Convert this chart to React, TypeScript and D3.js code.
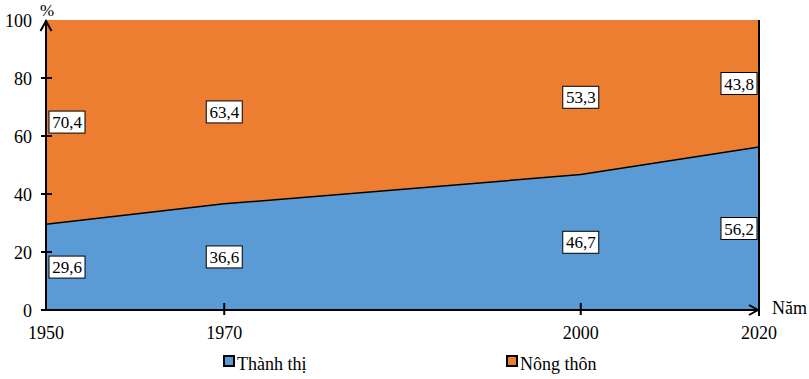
import React from "react";
import * as d3 from "d3";

const years = [1950, 1970, 2000, 2020];
const yearSlots = [0, 1, 3, 4];
const thanhThi = [29.6, 36.6, 46.7, 56.2];
const nongThon = [70.4, 63.4, 53.3, 43.8];
const yTicks = [0, 20, 40, 60, 80, 100];
const seriesNames = ["Thành thị", "Nông thôn"];
const colors = ["#5B9BD5", "#ED7D31"];

const W = 809;
const H = 379;
const left = 46;
const right = 759;
const top = 20;
const bottom = 310;

export default function App() {
  const slot = d3.scaleLinear().domain([0, 4]).range([left, right]);
  const x = (i: number) => slot(yearSlots[i]);
  const y = d3.scaleLinear().domain([0, 100]).range([bottom, top]);
  const idx = years.map((_, i) => i);
  const curve = d3.curveLinear;

  const areaBottom = d3
    .area<number>()
    .x((i) => x(i))
    .y0(y(0))
    .y1((i) => y(thanhThi[i]))
    .curve(curve);
  const areaTop = d3
    .area<number>()
    .x((i) => x(i))
    .y0((i) => y(thanhThi[i]))
    .y1(y(100))
    .curve(curve);
  const boundary = d3
    .line<number>()
    .x((i) => x(i))
    .y((i) => y(thanhThi[i]))
    .curve(curve);

  const fontStyle = { fontFamily: "Liberation Serif, 'Times New Roman', serif" };
  const boxW = 36;
  const boxH = 22;
  const labelX = (i: number) => {
    const cx = x(i);
    return Math.max(left + 3 + boxW / 2, Math.min(right - 2 - boxW / 2, cx));
  };
  const fmt = (v: number) => v.toFixed(1).replace(".", ",");

  const labels: { cx: number; cy: number; text: string }[] = [];
  idx.forEach((i) => {
    labels.push({ cx: labelX(i), cy: y(thanhThi[i] / 2), text: fmt(thanhThi[i]) });
    labels.push({
      cx: labelX(i),
      cy: y(thanhThi[i] + nongThon[i] / 2),
      text: fmt(nongThon[i]),
    });
  });

  return (
    <svg
      width={W}
      height={H}
      style={{ position: "absolute", left: 0, top: 0, background: "#fff", ...fontStyle }}
    >
      <path d={areaBottom(idx) || ""} fill={colors[0]} />
      <path d={areaTop(idx) || ""} fill={colors[1]} />
      <path d={boundary(idx) || ""} fill="none" stroke="#000" strokeWidth={1.5} />
      {/* right edge */}
      <line x1={right} x2={right} y1={y(100)} y2={bottom + 6} stroke="#000" strokeWidth={2} />

      {/* y axis */}
      <line x1={left} x2={left} y1={bottom} y2={top} stroke="#000" strokeWidth={2} />
      <polyline
        points={`${left - 5.5},${top + 11} ${left},${top + 1} ${left + 5.5},${top + 11}`}
        fill="none"
        stroke="#000"
        strokeWidth={2}
      />
      {yTicks.map((t) => (
        <g key={t}>
          {t !== 100 && t !== 0 && (
            <line x1={left - 5} x2={left + 6} y1={y(t)} y2={y(t)} stroke="#000" strokeWidth={2} />
          )}
          {t === 0 && <line x1={left - 5} x2={left} y1={y(t)} y2={y(t)} stroke="#000" strokeWidth={2} />}
          <text x={32} y={y(t) + 7} textAnchor="end" fontSize={18} fill="#000" style={fontStyle}>
            {t}
          </text>
        </g>
      ))}
      <text x={40} y={16} fontSize={17} fill="#000" style={fontStyle}>
        %
      </text>

      {/* x axis */}
      <line x1={left} x2={right} y1={bottom} y2={bottom} stroke="#000" strokeWidth={2} />
      <polyline
        points={`${right - 10},${bottom - 5} ${right - 1},${bottom} ${right - 10},${bottom + 5}`}
        fill="none"
        stroke="#000"
        strokeWidth={2}
      />
      {idx.map((i) => (
        <g key={years[i]}>
          {i > 0 && i < years.length - 1 && (
            <line x1={x(i)} x2={x(i)} y1={bottom - 7} y2={bottom + 5} stroke="#000" strokeWidth={2} />
          )}
          <text x={x(i)} y={339} textAnchor="middle" fontSize={18} fill="#000" style={fontStyle}>
            {years[i]}
          </text>
        </g>
      ))}
      <text x={772} y={314} fontSize={18} fill="#000" style={fontStyle}>
        Năm
      </text>

      {/* data labels */}
      {labels.map((l, k) => (
        <g key={k}>
          <rect
            x={l.cx - boxW / 2}
            y={l.cy - boxH / 2}
            width={boxW}
            height={boxH}
            fill="#fff"
            stroke="#000"
            strokeWidth={1}
          />
          <text x={l.cx} y={l.cy + 6} textAnchor="middle" fontSize={17} fill="#000" style={fontStyle}>
            {l.text}
          </text>
        </g>
      ))}

      {/* legend */}
      {seriesNames.map((name, k) => {
        const lx = k === 0 ? 224 : 507;
        return (
          <g key={name}>
            <rect x={lx} y={356} width={10} height={10} fill={colors[k]} stroke="#000" strokeWidth={2} />
            <text x={lx + 13} y={370} fontSize={18} fill="#000" style={fontStyle}>
              {name}
            </text>
          </g>
        );
      })}
    </svg>
  );
}
